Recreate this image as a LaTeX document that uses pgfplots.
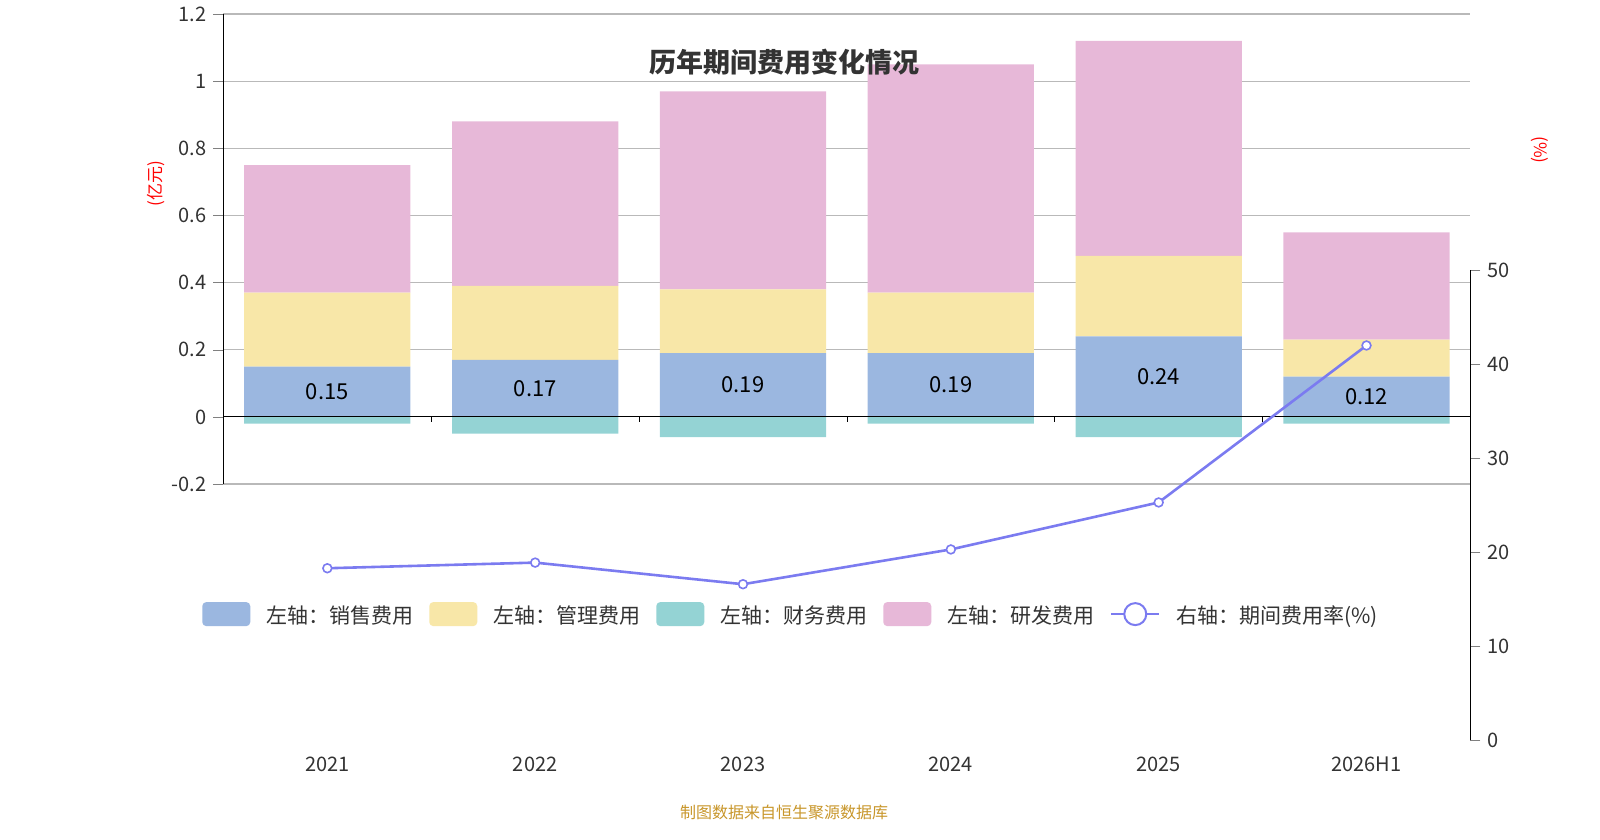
\documentclass[border=0pt]{standalone}
\usepackage{pgfplots}
\pgfplotsset{compat=1.18}
\usepackage{fontspec}
\setmainfont{Noto Sans CJK SC}
\definecolor{cs}{HTML}{9BB7E0}
\definecolor{cm}{HTML}{F8E7A8}
\definecolor{cf}{HTML}{94D3D4}
\definecolor{cr}{HTML}{E7B8D8}
\definecolor{cl}{HTML}{7B7BF0}
\definecolor{tx}{HTML}{333333}
\definecolor{ft}{HTML}{C8962A}
\begin{document}
\begin{tikzpicture}[x=1pt,y=1pt]
\path (0,0) rectangle (800,400);
\pgfplotsset{base/.style={at={(107.5,106)},anchor=south west,scale only axis,width=623.5pt,height=235pt,
 xmin=-0.5,xmax=5.5,ymin=-0.2,ymax=1.2,/pgf/number format/assume math mode=true,
 tick label style={font=\fontsize{10}{12}\selectfont,text=tx}}}
% finance bars
\begin{axis}[base,axis lines=none,ybar,bar width=0.8,bar shift=0pt]
\addplot[fill=cf,draw=none] coordinates {(0,-0.02)(1,-0.05)(2,-0.06)(3,-0.02)(4,-0.06)(5,-0.02)};
\end{axis}
\begin{axis}[base,ybar stacked,bar width=0.8,
 axis x line=none,axis y line*=left,ytick={-0.2,0,...,1.2},
 yticklabels={-0.2,0,0.2,0.4,0.6,0.8,1,1.2},
 ymajorgrids,grid style={gray!55,line width=0.6pt},tick align=outside,
 major tick length=5pt,y axis line style={black},
 legend columns=5,legend style={at={(0.456,-0.281)},anchor=center,draw=none,
   font=\fontsize{10.5}{12}\selectfont,text=tx,column sep=6pt},
 legend image code/.code={\fill[#1,rounded corners=2pt] (0pt,-5pt) rectangle (24pt,7pt);}]
\addplot[fill=cs,draw=none] coordinates {(0,0.15)(1,0.17)(2,0.19)(3,0.19)(4,0.24)(5,0.12)};
\addlegendentry{左轴：销售费用}
\addplot[fill=cm,draw=none] coordinates {(0,0.22)(1,0.22)(2,0.19)(3,0.18)(4,0.24)(5,0.11)};
\addlegendentry{左轴：管理费用}
\addlegendimage{fill=cf,draw=none}
\addlegendentry{左轴：财务费用}
\addplot[fill=cr,draw=none] coordinates {(0,0.38)(1,0.49)(2,0.59)(3,0.68)(4,0.64)(5,0.32)};
\addlegendentry{左轴：研发费用}
\addlegendimage{legend image code/.code={\draw[cl,line width=1pt] (0pt,1pt)--(24pt,1pt);\draw[cl,fill=white,line width=1pt] (12pt,1pt) circle (5.5pt);}}
\addlegendentry{右轴：期间费用率(\%)}
\end{axis}
\begin{axis}[base,axis lines=none,clip=false,
 extra x ticks={0.5,1.5,2.5,3.5,4.5},extra x tick labels={},
 extra x tick style={tick style={black},major tick length=5pt}]
\draw[black,line width=0.6pt] (axis cs:-0.5,0)--(axis cs:5.5,0);
\draw[black] (axis cs:0.5,0)--(axis cs:0.5,-0.015);
\draw[black] (axis cs:1.5,0)--(axis cs:1.5,-0.015);
\draw[black] (axis cs:2.5,0)--(axis cs:2.5,-0.015);
\draw[black] (axis cs:3.5,0)--(axis cs:3.5,-0.015);
\draw[black] (axis cs:4.5,0)--(axis cs:4.5,-0.015);
\addplot[only marks,mark=none,nodes near coords,point meta=explicit symbolic,
 every node near coord/.style={anchor=center,font=\fontsize{11}{13}\selectfont,text=black}]
 coordinates {(0,0.075)[0.15](1,0.085)[0.17](2,0.095)[0.19](3,0.095)[0.19](4,0.12)[0.24](5,0.06)[0.12]};
\end{axis}
\begin{axis}[base,ymin=0,ymax=50,axis x line*=bottom,axis y line*=right,
 xtick={0,...,5},xticklabels={2021,2022,2023,2024,2025,2026H1},
 x axis line style={draw=none},xtick style={draw=none},
 ytick={0,10,...,50},tick align=outside,major tick length=5pt,y axis line style={black}]
\addplot[cl,line width=1.3pt,mark=*,mark size=2.2pt,mark options={fill=white,draw=cl,line width=0.8pt}]
 coordinates {(0,18.3)(1,18.9)(2,16.6)(3,20.3)(4,25.3)(5,42.0)};
\end{axis}
\node[font=\bfseries\fontsize{13.5}{15}\selectfont,text=tx] at (392,389) {历年期间费用变化情况};
\node[rotate=90,text=red,font=\fontsize{8.5}{10}\selectfont] at (78,328) {(亿元)};
\node[rotate=-90,text=red,font=\fontsize{8.5}{10}\selectfont] at (770,345) {(\%)};
\node[text=ft,font=\fontsize{8}{10}\selectfont] at (392,13.5) {制图数据来自恒生聚源数据库};
\end{tikzpicture}
\end{document}
